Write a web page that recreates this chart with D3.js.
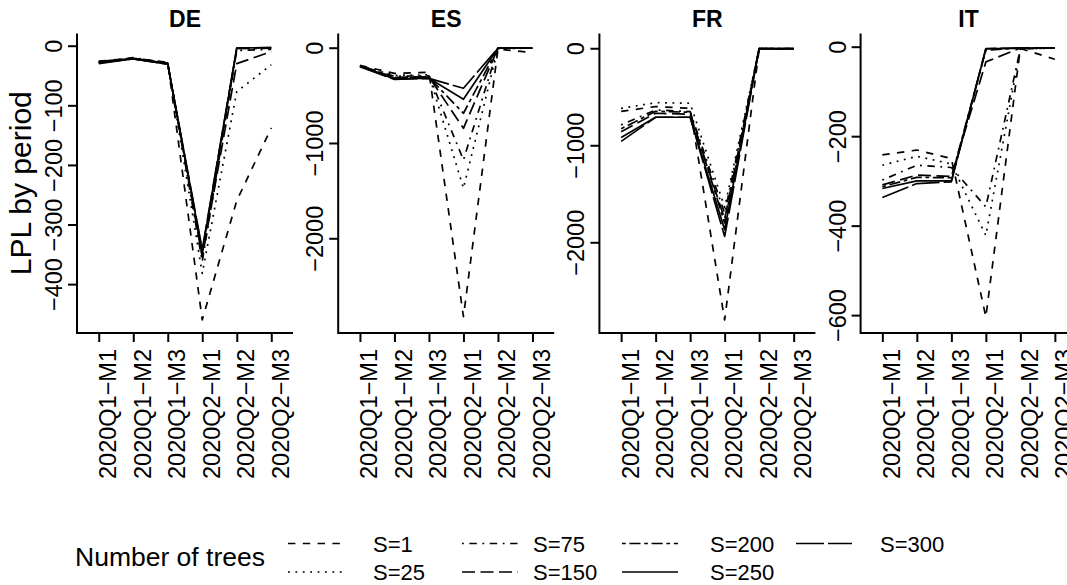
<!DOCTYPE html>
<html>
<head>
<meta charset="utf-8">
<script src="https://cdn.jsdelivr.net/npm/d3@7"></script>
<style>
  body { margin: 0; background: #fff; }
  svg { display: block; font-family: 'Liberation Sans', Arial, sans-serif; }
</style>
</head>
<body>
<svg id="chart" width="1067" height="585"></svg>
<script>
// data
const periods = ['2020Q1−M1', '2020Q1−M2', '2020Q1−M3', '2020Q2−M1', '2020Q2−M2', '2020Q2−M3']
const countries = ['DE', 'ES', 'FR', 'IT']
const treeLabels = ['S=1', 'S=25', 'S=75', 'S=150', 'S=200', 'S=250', 'S=300']

// LPL by period, one row per number of trees (S=1 ... S=300)
const lplDE = [
  [-26, -21, -28, -460, -260, -138],
  [-27, -21, -29, -382, -77, -32],
  [-27, -20, -29, -362, -8, -6],
  [-28, -21, -30, -355, -30, -10],
  [-28, -22, -30, -350, -5, -4],
  [-29, -22, -31, -345, -4, -3],
  [-30, -22, -31, -342, -4, -3]
]
const lplES = [
  [-185, -270, -258, -2823, -15, -50],
  [-190, -290, -285, -1475, -8, -5],
  [-190, -300, -295, -1178, -6, -4],
  [-192, -310, -305, -846, -5, -4],
  [-195, -318, -312, -688, -5, -4],
  [-198, -328, -320, -541, -4, -4],
  [-200, -332, -322, -426, -4, -4]
]
const lplFR = [
  [-650, -601, -619, -2801, -5, -5],
  [-620, -561, -567, -1640, -4, -4],
  [-790, -636, -653, -1700, -4, -4],
  [-860, -670, -680, -1760, -4, -10],
  [-830, -650, -660, -1800, -4, -4],
  [-920, -711, -711, -1870, -3, -4],
  [-960, -711, -711, -1940, -3, -4]
]
const lplIT = [
  [-242, -231, -250, -604, -4, -28],
  [-265, -245, -262, -422, -5, -3],
  [-298, -265, -270, -358, -5, -3],
  [-309, -287, -290, -34, -3, -3],
  [-313, -292, -293, -8, -3, -3],
  [-317, -300, -300, -5, -3, -3],
  [-337, -306, -302, -4, -3, -3]
]
const lplByCountry = [lplDE, lplES, lplFR, lplIT]

// axis ticks and limits per panel
const yTicks = [
  [0, -100, -200, -300, -400],
  [0, -1000, -2000],
  [0, -1000, -2000],
  [0, -200, -400, -600]
]
const yLimits = [[-482, 20.5], [-2994, 149], [-2935, 152], [-640, 29.5]]

// line types (R lty 2,3,4,5,6,1 and a long dash)
const dashes = ['7.4,7.4', '1.85,5.55', '1.85,5.55,7.4,5.55', '13,5.5', '3.7,3.7,11.1,3.7', null, '28,4']

// dimensions
const panelLeft0 = 77
const panelStep = 261.2
const panelWidth = 216
const plotTop = 33.5
const plotBottom = 333
const tickLen = 9
const lineWidth = 1.7
const tickFont = '23.5px'

const $svg = d3.select('#chart')

const x = d3.scaleLinear().domain([0.37, 6.63])

countries.forEach((country, ci) => {
  const left = panelLeft0 + ci * panelStep
  x.range([left, left + panelWidth])
  const y = d3.scaleLinear().domain(yLimits[ci]).range([plotBottom, plotTop])
  const $g = $svg.append('g').attr('class', 'panel')

  // lines
  const line = d3.line()
    .x((d, i) => x(i + 1))
    .y(d => y(d))

  $g.selectAll('.series')
    .data(lplByCountry[ci])
    .enter()
    .append('path')
    .attr('class', 'series')
    .attr('d', d => line(d))
    .attr('fill', 'none')
    .attr('stroke', '#000')
    .attr('stroke-width', lineWidth)
    .attr('stroke-dasharray', (d, i) => dashes[i])
    .attr('stroke-linejoin', 'round')

  // y axis
  const $yAxis = $g.append('g')
    .attr('transform', `translate(${left}, 0)`)
    .call(d3.axisLeft(y).tickValues(yTicks[ci]).tickSize(tickLen).tickFormat(d3.format('d')))
  $yAxis.select('.domain').remove()
  $yAxis.selectAll('line').attr('stroke-width', 2)
  $yAxis.selectAll('text')
    .attr('x', 0)
    .attr('y', -15)
    .attr('dy', null)
    .attr('transform', 'rotate(-90)')
    .attr('text-anchor', 'middle')
    .style('font-size', tickFont)
    .attr('fill', '#000')

  // x axis
  const $xAxis = $g.append('g')
    .attr('transform', `translate(0, ${plotBottom})`)
    .call(d3.axisBottom(x).tickValues(d3.range(1, 7)).tickSize(tickLen).tickFormat(i => periods[i - 1]))
  $xAxis.select('.domain').remove()
  $xAxis.selectAll('line').attr('stroke-width', 2)
  $xAxis.selectAll('text')
    .attr('x', -16)
    .attr('y', 17)
    .attr('dy', null)
    .attr('transform', 'rotate(-90)')
    .attr('text-anchor', 'end')
    .style('font-size', tickFont)
    .attr('fill', '#000')

  // L box
  $g.append('path')
    .attr('d', `M${left},${plotTop}V${plotBottom}H${left + panelWidth}`)
    .attr('fill', 'none')
    .attr('stroke', '#000')
    .attr('stroke-width', 2)

  // title
  $g.append('text')
    .attr('x', left + panelWidth / 2)
    .attr('y', 27)
    .attr('text-anchor', 'middle')
    .style('font-size', '23px')
    .style('font-weight', 'bold')
    .text(country)
})

// y axis title
$svg.append('text')
  .attr('transform', `translate(31, ${(plotTop + plotBottom) / 2}) rotate(-90)`)
  .attr('text-anchor', 'middle')
  .style('font-size', '30px')
  .text('LPL by period')

// legend
const legendRows = [543.5, 572]
const legendLineX = [288, 462, 622, 796]
const legendLabelX = [373, 533, 710, 880]
const legendLineLen = 56

const $legend = $svg.append('g').attr('class', 'legend')
$legend.append('text')
  .attr('x', 75)
  .attr('y', 566)
  .style('font-size', '26.5px')
  .text('Number of trees')

const items = $legend.selectAll('.item')
  .data(treeLabels)
  .enter()
  .append('g')
  .attr('class', 'item')
  .attr('transform', (d, i) => `translate(0, ${legendRows[i % 2]})`)

items.append('line')
  .attr('x1', (d, i) => legendLineX[Math.floor(i / 2)])
  .attr('x2', (d, i) => legendLineX[Math.floor(i / 2)] + legendLineLen)
  .attr('stroke', '#000')
  .attr('stroke-width', lineWidth)
  .attr('stroke-dasharray', (d, i) => dashes[i])

items.append('text')
  .attr('x', (d, i) => legendLabelX[Math.floor(i / 2)])
  .attr('y', 8)
  .style('font-size', '22px')
  .text(d => d)
</script>
</body>
</html>
